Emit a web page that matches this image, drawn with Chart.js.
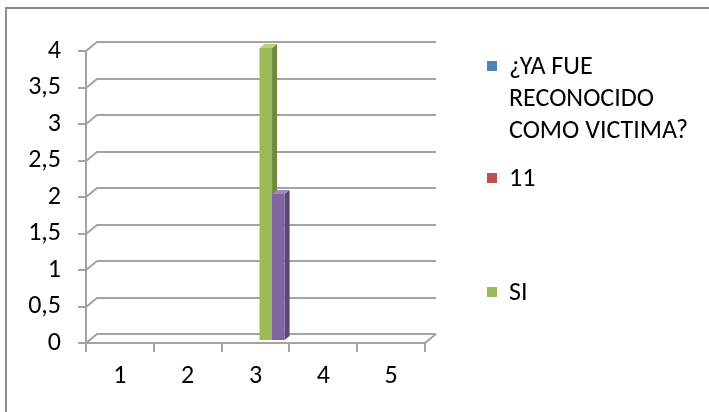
<!DOCTYPE html>
<html>
<head>
<meta charset="utf-8">
<script src="https://cdn.jsdelivr.net/npm/chart.js@4"></script>
<style>
  html, body { margin: 0; padding: 0; background: #fff; }
  body { width: 709px; height: 412px; position: relative; overflow: hidden; font-family: Carlito, Lato, sans-serif; }
  #frame { position: absolute; left: 5px; top: 7px; width: 800px; height: 500px; border: 2px solid #8c8c8c; box-sizing: border-box; }
  #chart { position: absolute; left: 0; top: 0; }
  .legend-item { position: absolute; left: 487px; width: 222px; font-size: 26px; line-height: 32px; color: #000; }
  .legend-item .box { position: absolute; left: 0; top: 12px; width: 10px; height: 10px; }
  .legend-item .txt { margin-left: 22px; width: 196px; }
</style>
</head>
<body>
<div id="frame"></div>
<canvas id="chart" width="709" height="412"></canvas>
<div id="legend"></div>
<script>
const categories = ['1', '2', '3', '4', '5'];
const seriesNames = ['¿YA FUE RECONOCIDO COMO VICTIMA?', '11', 'SI', ''];
const blueValues = [null, null, null, null, null];
const redValues = [null, null, null, null, null];
const greenValues = [null, null, 4, null, null];
const purpleValues = [null, null, 2, null, null];
const yTicks = [0, 0.5, 1, 1.5, 2, 2.5, 3, 3.5, 4];

const frontColors = ['#4F81BD', '#C0504D', '#9BBB59', '#8064A2'];
const sideColors = ['#3A5F8C', '#8E3B39', '#6E8A3D', '#5B4775'];
const topColors = ['#7A9FD0', '#D27B78', '#B5D07E', '#9C86BB'];
const legendTops = [49, 161, 275];

// 3D look: back wall offset and bar depth
const wallDx = 11, wallDy = -9;
const barDx = 4, barDy = -3;
const depthDx = 5, depthDy = -4;
const gridColor = '#a3a3a3';
const fontFamily = 'Carlito, Lato, sans-serif';

const walls3d = {
  id: 'walls3d',
  beforeDatasetsDraw(chart) {
    const { ctx, chartArea: a, scales: { x, y } } = chart;
    ctx.save();
    ctx.strokeStyle = gridColor;
    ctx.lineWidth = 2;
    yTicks.forEach(v => {
      const py = Math.round(y.getPixelForValue(v));
      ctx.beginPath();
      ctx.moveTo(a.left - 8, py);
      ctx.lineTo(a.left, py);
      ctx.lineTo(a.left + wallDx, py + wallDy);
      ctx.lineTo(a.right + wallDx, py + wallDy);
      ctx.stroke();
    });
    const base = Math.round(y.getPixelForValue(0));
    ctx.beginPath();
    ctx.moveTo(a.left, base);
    ctx.lineTo(a.right, base);
    ctx.lineTo(a.right + wallDx, base + wallDy);
    ctx.stroke();
    ctx.beginPath();
    ctx.moveTo(a.left, Math.round(y.getPixelForValue(4)));
    ctx.lineTo(a.left, base + 9);
    ctx.stroke();
    for (let i = 0; i <= categories.length; i++) {
      const px = Math.round(x.getPixelForValue(i - 0.5));
      ctx.beginPath();
      ctx.moveTo(px, base);
      ctx.lineTo(px, base + 9);
      ctx.stroke();
    }
    ctx.restore();

    // bars with side and top faces, left to right
    ctx.save();
    ctx.translate(barDx, barDy);
    chart.data.datasets.forEach((ds, di) => {
      chart.getDatasetMeta(di).data.forEach((bar, i) => {
        if (ds.data[i] === null) return;
        const { x: cx, y: top, base: bottom, width } = bar.getProps(['x', 'y', 'base', 'width']);
        const l = cx - width / 2, r = cx + width / 2;
        ctx.fillStyle = sideColors[di];
        ctx.beginPath();
        ctx.moveTo(r, top);
        ctx.lineTo(r + depthDx, top + depthDy);
        ctx.lineTo(r + depthDx, bottom + depthDy);
        ctx.lineTo(r, bottom);
        ctx.closePath();
        ctx.fill();
        ctx.fillStyle = topColors[di];
        ctx.beginPath();
        ctx.moveTo(l, top);
        ctx.lineTo(l + depthDx, top + depthDy);
        ctx.lineTo(r + depthDx, top + depthDy);
        ctx.lineTo(r, top);
        ctx.closePath();
        ctx.fill();
        ctx.fillStyle = frontColors[di];
        ctx.fillRect(l, top, width, bottom - top);
      });
    });
    ctx.restore();
    return false;
  }
};

const allValues = [blueValues, redValues, greenValues, purpleValues];

new Chart(document.getElementById('chart'), {
  type: 'bar',
  data: {
    labels: categories,
    datasets: allValues.map((vals, i) => ({
      label: seriesNames[i],
      data: vals,
      backgroundColor: frontColors[i],
      barPercentage: 1,
      categoryPercentage: 0.74,
    })),
  },
  options: {
    responsive: false,
    animation: false,
    layout: { padding: { left: 0, top: 51, right: 284, bottom: 0 } },
    plugins: { legend: { display: false }, tooltip: { enabled: false } },
    scales: {
      x: {
        grid: { display: false, drawTicks: false },
        border: { display: false },
        ticks: { color: '#000', font: { family: fontFamily, size: 26 }, padding: 18 },
        afterFit: s => { s.height = 69; },
      },
      y: {
        min: 0,
        max: 4,
        grid: { display: false, drawTicks: false },
        border: { display: false },
        afterBuildTicks: s => { s.ticks = yTicks.map(v => ({ value: v })); },
        ticks: {
          color: '#000',
          font: { family: fontFamily, size: 26 },
          padding: 25,
          callback: v => String(v).replace('.', ','),
        },
        afterFit: s => { s.width = 86; },
      },
    },
  },
  plugins: [walls3d],
});

const legend = document.getElementById('legend');
seriesNames.slice(0, 3).forEach((name, i) => {
  const item = document.createElement('div');
  item.className = 'legend-item';
  item.style.top = legendTops[i] + 'px';
  item.innerHTML = '<span class="box" style="background:' + frontColors[i] + '"></span><div class="txt"></div>';
  item.querySelector('.txt').textContent = name;
  legend.appendChild(item);
});
</script>
</body>
</html>
